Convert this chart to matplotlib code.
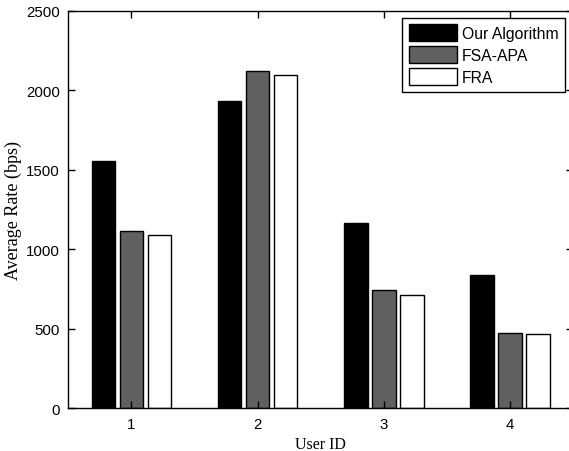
import numpy as np
import matplotlib.pyplot as plt

# values
users = [1, 2, 3, 4]
our_alg = [1555, 1930, 1165, 838]
fsa_apa = [1117, 2120, 742, 472]
fra = [1088, 2097, 713, 465]
series_names = ['Our Algorithm', 'FSA-APA', 'FRA']
series_colors = ['black', '#606060', 'white']

fig = plt.figure(figsize=(5.69, 4.52), dpi=100)
# right spine lies just outside the picture in the reference
ax = fig.add_axes([68.3 / 569, 1 - 409.3 / 452, 504.7 / 569, 397.6 / 452])

x = np.array(users, dtype=float)
width = 0.187
offset = 0.222
for i, (vals, name, col) in enumerate(zip([our_alg, fsa_apa, fra], series_names, series_colors)):
    ax.bar(x + (i - 1) * offset, vals, width, color=col, edgecolor='black',
           linewidth=1.0, label=name)

ax.set_xlim(0.5, 4.5)
ax.set_ylim(0, 2500)
ax.set_xticks(users)
ax.set_yticks(np.arange(0, 2501, 500))

sans = ['Liberation Sans', 'DejaVu Sans']
serif = ['Liberation Serif', 'DejaVu Serif']
for lab in ax.get_xticklabels() + ax.get_yticklabels():
    lab.set_family(sans)
    lab.set_fontsize(10.8)

ax.tick_params(direction='in', length=5, width=1, top=True, right=True, pad=6)
for sp in ax.spines.values():
    sp.set_linewidth(1.0)

ax.set_xlabel('User ID', family=serif, fontsize=11.5, labelpad=4)
ax.set_ylabel('Average Rate (bps)', family=serif, fontsize=13, labelpad=3)

leg = ax.legend(loc='upper right', bbox_to_anchor=(0.984, 0.982), borderaxespad=0,
                fancybox=False, edgecolor='black', framealpha=1,
                prop={'family': sans, 'size': 11.3},
                handlelength=3.1, handleheight=1.3, handletextpad=0.3,
                labelspacing=0.32, borderpad=0.4)
leg.get_frame().set_linewidth(1.0)

fig.savefig('out.png', dpi=100)
